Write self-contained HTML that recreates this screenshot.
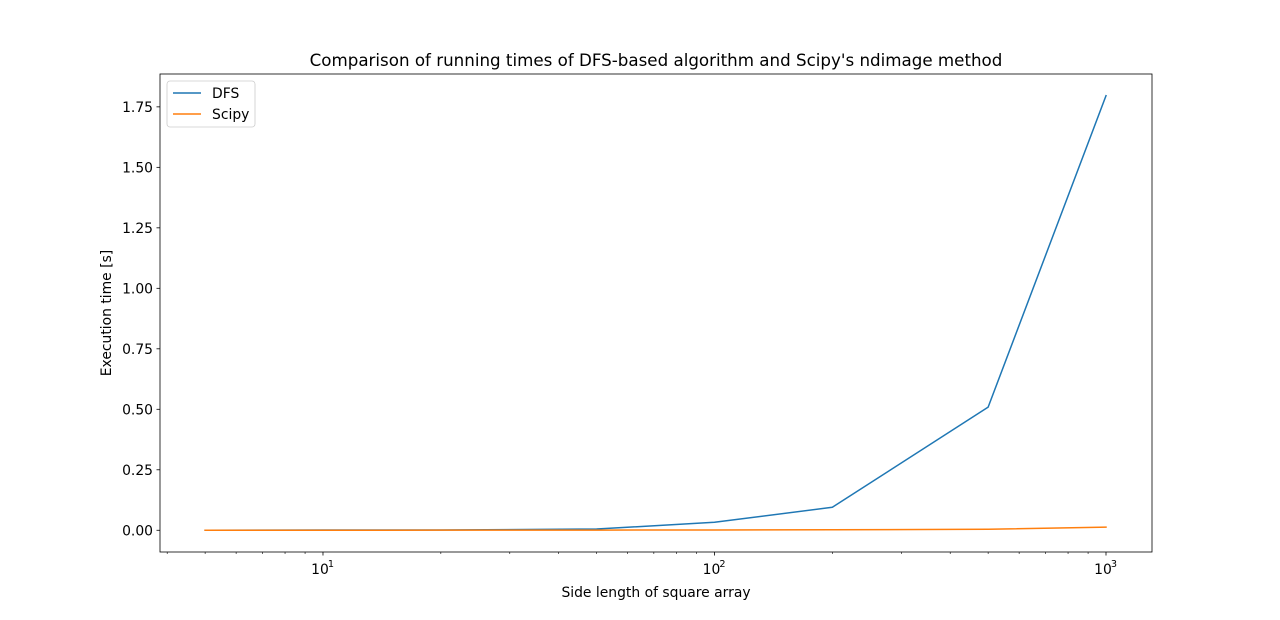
<!DOCTYPE html>
<html><head><meta charset="utf-8"><style>
html,body{margin:0;padding:0;background:#fff;}
svg{display:block;font-family:"DejaVu Sans","Liberation Sans",sans-serif;}
</style></head><body>
<svg id="chart" width="1280" height="620" viewBox="0 0 1280 620">
<rect width="1280" height="620" fill="#fff"/>
<text x="656" y="66" text-anchor="middle" font-size="16.7" fill="#000">Comparison of running times of DFS-based algorithm and Scipy's ndimage method</text>
<g id="plot"></g>
<text x="656" y="597" text-anchor="middle" font-size="13.9" fill="#000">Side length of square array</text>
<text transform="translate(111,313) rotate(-90)" text-anchor="middle" font-size="13.9" fill="#000">Execution time [s]</text>
</svg>
<script>
const sizes = [5, 10, 20, 50, 100, 200, 500, 1000];
const dfsTimes = [0.0003, 0.001, 0.001, 0.005, 0.033, 0.095, 0.509, 1.796];
const scipyTimes = [0.0002, 0.0003, 0.0004, 0.0008, 0.0012, 0.002, 0.004, 0.013];
const yTicks = [0, 0.25, 0.5, 0.75, 1.0, 1.25, 1.5, 1.75];
const yTickLabels = ["0.00","0.25","0.50","0.75","1.00","1.25","1.50","1.75"];
const xMajor = [1, 2, 3];

const L=160,R=1152,T=74,B=552;
const lx0=0.5837, lx1=3.1175, y0=-0.0898, y1=1.8858;
const xs=v=>L+(Math.log10(v)-lx0)/(lx1-lx0)*(R-L);
const ys=v=>B-(v-y0)/(y1-y0)*(B-T);
const NS="http://www.w3.org/2000/svg";
const g=document.getElementById('plot');
function mk(t,a,p){const e=document.createElementNS(NS,t);for(const k in a)e.setAttribute(k,a[k]);(p||g).appendChild(e);return e;}

// series
function series(data,color,name){
  const d=sizes.map((s,i)=>(i?'L':'M')+xs(s).toFixed(2)+','+ys(data[i]).toFixed(2)).join(' ');
  const p=mk('path',{d:d,fill:'none',stroke:color,'stroke-width':1.5,'stroke-linejoin':'round','stroke-linecap':'square'});
  
  
}
series(dfsTimes,'#1f77b4','dfs-line');
series(scipyTimes,'#ff7f0e','scipy-line');

// frame
const fr=mk('rect',{x:L,y:T,width:R-L,height:B-T,fill:'none',stroke:'#000','stroke-width':0.8});



// y ticks
yTicks.forEach((v,i)=>{
  const y=ys(v);
  mk('line',{x1:L-3.5,x2:L,y1:y,y2:y,stroke:'#000','stroke-width':0.8});
  const t=mk('text',{x:L-7,y:y+5,'text-anchor':'end','font-size':13.9,fill:'#000'});
  t.textContent=yTickLabels[i];
  
  
});
// x minor ticks
for(let d=0;d<=3;d++)for(let m=2;m<=9;m++){
  const v=m*Math.pow(10,d);const lv=Math.log10(v);
  if(lv<lx0||lv>lx1)continue;
  const x=xs(v);mk('line',{x1:x,x2:x,y1:B,y2:B+2,stroke:'#000','stroke-width':0.6});
}
xMajor.forEach(e=>{
  const x=xs(Math.pow(10,e));
  mk('line',{x1:x,x2:x,y1:B,y2:B+3.5,stroke:'#000','stroke-width':0.8});
  const t=mk('text',{x:x-3,y:B+22,'text-anchor':'middle','font-size':13.9,fill:'#000'});
  t.textContent='10';
  
  
  const s=mk('text',{x:x+8,y:B+15,'text-anchor':'middle','font-size':9.7,fill:'#000'});
  s.textContent=String(e);
});

// legend
const lg=mk('g',{});


mk('rect',{x:167,y:81,width:88,height:46,rx:3,fill:'#fff',stroke:'#ccc','stroke-width':0.8},lg);
[['DFS','#1f77b4',93],['Scipy','#ff7f0e',114]].forEach(([n,c,y])=>{
  mk('line',{x1:173,x2:201,y1:y,y2:y,stroke:c,'stroke-width':1.5},lg);
  const t=mk('text',{x:212,y:y+5,'font-size':13.9,fill:'#000'},lg);
  t.textContent=n;
  
  
});
</script>
</body></html>
